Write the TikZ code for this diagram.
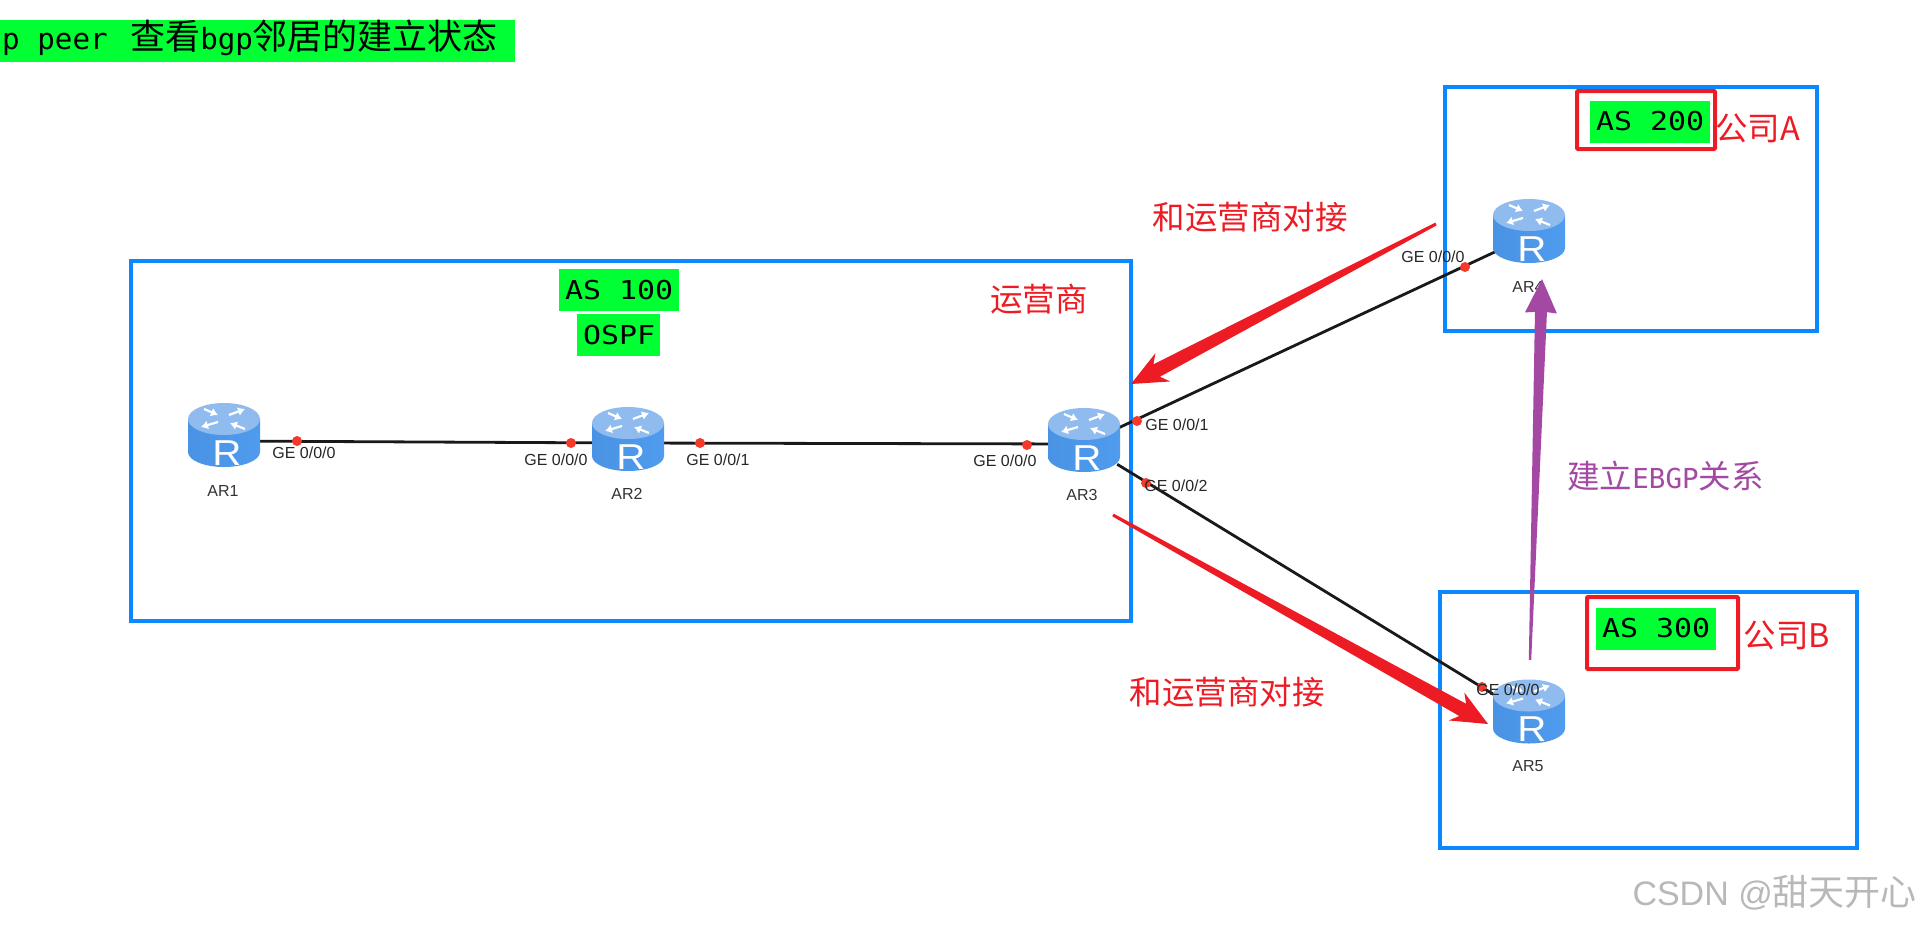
\documentclass[tikz,border=0pt]{standalone}
\usepackage{fontspec}
\usetikzlibrary{calc,arrows.meta}
\setmainfont{Liberation Sans}
\newfontfamily\cjkfont{Noto Sans CJK SC}
\newfontfamily\monofont{DejaVu Sans Mono}
\definecolor{boxblue}{HTML}{0A88FF}
\definecolor{markgreen}{HTML}{00FF33}
\definecolor{markred}{HTML}{ED1C24}
\definecolor{markpurple}{HTML}{A349A4}
\definecolor{dotred}{HTML}{F5392B}
\definecolor{bodyl}{HTML}{4A93E4}
\definecolor{bodym}{HTML}{6DB4F7}
\definecolor{bodyr}{HTML}{4F9BEE}
\definecolor{toplight}{HTML}{8FBBEE}
\tikzset{
  areabox/.style={draw=boxblue,line width=4pt,fill=none},
  redbox/.style={draw=markred,line width=4pt,rounded corners=1pt},
  greenbar/.style={fill=markgreen,draw=none},
  monotext/.style={font=\monofont\fontsize{26}{26}\selectfont,text=black,inner sep=0pt,xscale=1.15,transform shape},
  redtext/.style={font=\cjkfont\fontsize{32.5}{32.5}\selectfont,text=markred,inner sep=0pt},
  routerbox/.style={minimum width=66pt,minimum height=50pt,inner sep=0pt,draw=none},
  linkline/.style={line width=2.8pt,draw=black!90},
  portdot/.style={circle,fill=dotred,minimum size=10pt,inner sep=0pt,draw=none},
  portlabel/.style={font=\fontsize{16}{16}\selectfont,text=black!85,inner sep=0pt},
  routername/.style={font=\fontsize{16}{16}\selectfont,text=black!80,inner sep=0pt},
  routerarrow/.style={draw=white,line width=2.2pt,-{Latex[length=7pt,width=9pt]}},
  routericon/.pic={
    \path[left color=bodyl,middle color=bodym,right color=bodyr]
      (-36,-16) -- (-36,17) .. controls (-36,25.3) and (-20,32) .. (0,32)
      .. controls (20,32) and (36,25.3) .. (36,17) -- (36,-16) -- cycle;
    \path[fill=toplight]
      (-36,-16) .. controls (-36,-24.8) and (-20,-32) .. (0,-32)
      .. controls (20,-32) and (36,-24.8) .. (36,-16)
      .. controls (36,-7.2) and (20,0) .. (0,0)
      .. controls (-20,0) and (-36,-7.2) .. (-36,-16) -- cycle;
    \draw[routerarrow] (-20,-26) -- (-6,-20);
    \draw[routerarrow] (5,-20) -- (21,-26);
    \draw[routerarrow] (-6,-13) -- (-23,-8);
    \draw[routerarrow] (21,-6) -- (6,-12);
    \node[font=\fontsize{36}{36}\selectfont,text=white,inner sep=0pt,xscale=1.12,transform shape] at (3,18) {R};
  }
}
% tapered arrow: tail coordinate, tip coordinate, colour, notch distance, barb distance, barb half width, shaft half width, tail half width
\newcommand{\taperarrow}[8]{%
  \fill[#3]
    ($(#1)!-#8pt!90:(#2)$) --
    ($(#2)!#4pt!(#1)!#7pt!90:(#1)$) --
    ($(#2)!#5pt!(#1)!#6pt!90:(#1)$) --
    (#2) --
    ($(#2)!#5pt!(#1)!-#6pt!90:(#1)$) --
    ($(#2)!#4pt!(#1)!-#7pt!90:(#1)$) --
    ($(#1)!#8pt!90:(#2)$) -- cycle;
}
\begin{document}
\begin{tikzpicture}[x=1pt,y=-1pt]
\useasboundingbox (0,0) rectangle (1924,924);
% top banner
\node[greenbar,minimum width=515pt,minimum height=42pt,anchor=north west,inner sep=0pt] (banner) at (0,20) {};
\node[anchor=base west,inner sep=0pt,text=black] (bannertext) at (2,49) {\monofont\fontsize{29.2}{29.2}\selectfont p peer \kern5pt{\cjkfont\fontsize{35}{35}\selectfont 查看}bgp{\cjkfont\fontsize{35}{35}\selectfont 邻居的建立状态}};
% area boxes
\draw[areabox] (131,261) rectangle (1131,621);
\draw[areabox] (1445,87) rectangle (1817,331);
\draw[areabox] (1440,592) rectangle (1857,848);
% tags
\draw[redbox] (1577,91) rectangle (1715,149);
\draw[redbox] (1587,597) rectangle (1738,669);
\path[greenbar] (559,269) rectangle (679,311);
\path[greenbar] (577,314) rectangle (660,356);
\path[greenbar] (1590,101) rectangle (1710,143);
\path[greenbar] (1596,608) rectangle (1716,650);
\node[monotext] (as100) at (619,290) {AS 100};
\node[monotext] (ospf) at (619,335) {OSPF};
\node[monotext] (as200) at (1650,121) {AS 200};
\node[monotext] (as300) at (1656,628) {AS 300};
% routers
\node[routerbox] (r1) at (224,441) {};
\node[routerbox] (r2) at (628,443) {};
\node[routerbox] (r3) at (1084,444) {};
\node[routerbox] (r4) at (1529,236) {};
\node[routerbox] (r5) at (1529,716) {};
% links
\draw[linkline] (r1) -- (r2);
\draw[linkline] (r2) -- (r3);
\draw[linkline] (r3) -- (r4);
\draw[linkline] (r3) -- (r5);
% router icons
\pic at ($(r1)+(0,-6)$) {routericon};
\pic at ($(r2)+(0,-4)$) {routericon};
\pic at ($(r3)+(0,-4)$) {routericon};
\pic at ($(r4)+(0,-5)$) {routericon};
\pic at ($(r5)+(0,-4.5)$) {routericon};
% ports
\node[portdot] (p1) at (297,441) {};
\node[portdot] (p2) at (571,443) {};
\node[portdot] (p3) at (700,443) {};
\node[portdot] (p4) at (1027,445) {};
\node[portdot] (p5) at (1137,421) {};
\node[portdot] (p6) at (1146,483) {};
\node[portdot] (p7) at (1465,267) {};
\node[portdot] (p8) at (1482,687) {};
\node[portlabel] (l1) at (304,453) {GE 0/0/0};
\node[portlabel] (l2) at (556,460) {GE 0/0/0};
\node[portlabel] (l3) at (718,460) {GE 0/0/1};
\node[portlabel] (l4) at (1005,461) {GE 0/0/0};
\node[portlabel] (l5) at (1177,425) {GE 0/0/1};
\node[portlabel] (l6) at (1176,486) {GE 0/0/2};
\node[portlabel] (l7) at (1433,257) {GE 0/0/0};
\node[portlabel] (l8) at (1508,690) {GE 0/0/0};
\node[routername] (n1) at (223,491) {AR1};
\node[routername] (n2) at (627,494) {AR2};
\node[routername] (n3) at (1082,495) {AR3};
\node[routername] (n4) at (1528,287) {AR4};
\node[routername] (n5) at (1528,766) {AR5};
% labels
\node[redtext] (t1) at (1250,217) {和运营商对接};
\node[redtext] (t2) at (1039,299) {运营商};
\node[redtext] (t3) at (1227,692) {和运营商对接};
\node[redtext] (t4) at (1757.5,128) {公司A};
\node[redtext] (t5) at (1787,635) {公司B};
\node[redtext,text=markpurple] (t6) at (1665.5,476) {建立{\monofont\fontsize{27.5}{27.5}\selectfont EBGP}关系};
\node[text=black!28,inner sep=0pt,anchor=east] (wm) at (1917,893) {\fontsize{34}{34}\selectfont CSDN @{\cjkfont\fontsize{36}{36}\selectfont 甜天开心}};
% annotation arrows
\coordinate (a1s) at (1436,224);
\coordinate (a1e) at (1131,384);
\coordinate (a2s) at (1113,515);
\coordinate (a2e) at (1488,724);
\coordinate (a3s) at (1530,660);
\coordinate (a3e) at (1542,279);
\taperarrow{a1s}{a1e}{markred}{29}{36}{16}{7}{1.5}
\taperarrow{a2s}{a2e}{markred}{29}{36}{16}{7}{1.5}
\taperarrow{a3s}{a3e}{markpurple}{33}{34}{16}{6}{1.2}
\end{tikzpicture}
\end{document}
